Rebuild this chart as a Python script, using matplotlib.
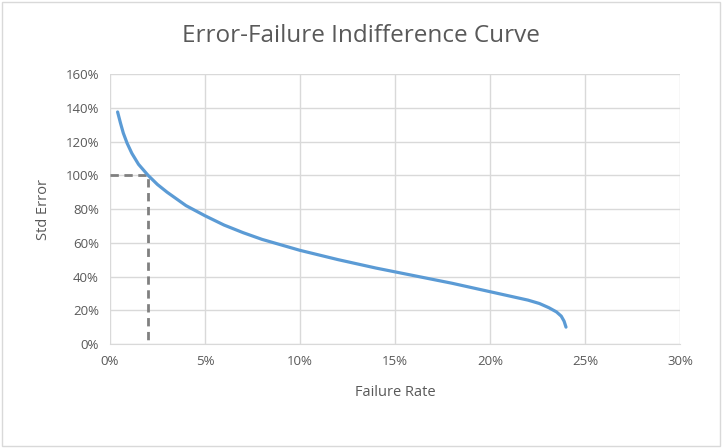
import matplotlib.pyplot as plt
from matplotlib.ticker import PercentFormatter

# failure rate (%) vs std error (%)
failure_rate = [0.4, 0.55, 0.7, 0.9, 1.15, 1.5, 2.0, 2.5, 3.0, 4.0, 5.0, 6.0, 7.0, 8.0,
                10.0, 12.0, 14.0, 16.0, 18.0, 20.0, 21.0, 22.0, 22.6, 23.1, 23.5,
                23.75, 23.9, 24.0]
std_error = [137.5, 131, 125, 119, 113, 106.5, 100, 94.5, 90, 82, 76, 70.5, 66, 62,
             55.5, 50, 45, 40.5, 36, 31, 28.5, 26, 24, 21.5, 19,
             16.5, 13.5, 10]

# the marked point
ref_x = 2.0
ref_y = 100

x_ticks = [0, 5, 10, 15, 20, 25, 30]
y_ticks = [0, 20, 40, 60, 80, 100, 120, 140, 160]

plt.rcParams['font.family'] = ['Open Sans', 'DejaVu Sans']
txt = '#595959'
grid = '#d9d9d9'

fig = plt.figure(figsize=(7.22, 4.48), dpi=100)
ax = fig.add_axes([110 / 722, 1 - 344 / 448, 570 / 722, 270 / 448])

ax.plot(failure_rate, std_error, color='#5B9BD5', lw=2.3, solid_capstyle='round',
        solid_joinstyle='round', zorder=3)
ax.plot([0, ref_x, ref_x], [ref_y, ref_y, 0], color='#808080', lw=2,
        dashes=(3, 2), zorder=2)

ax.set_xlim(0, 30)
ax.set_ylim(0, 160)
ax.set_xticks(x_ticks)
ax.set_yticks(y_ticks)
ax.xaxis.set_major_formatter(PercentFormatter(decimals=0))
ax.yaxis.set_major_formatter(PercentFormatter(decimals=0))
ax.grid(True, color=grid, lw=1)
ax.set_axisbelow(True)
for s in ['top', 'right', 'left']:
    ax.spines[s].set_visible(False)
ax.spines['bottom'].set_color(grid)
ax.tick_params(length=0, labelsize=9.5, colors=txt, pad=8)

ax.set_xlabel('Failure Rate', fontsize=10.5, color=txt, labelpad=12)
ax.set_ylabel('Std Error', fontsize=10.5, color=txt, labelpad=10)
fig.text(0.5, 1 - 36 / 448, 'Error-Failure Indifference Curve', ha='center', va='center',
         fontsize=17.5, color=txt)

# outer chart border
fig.patches.append(plt.Rectangle((2 / 722, 2 / 448), 718 / 722, 444 / 448, transform=fig.transFigure,
                                 fill=False, edgecolor=grid, lw=1))

fig.savefig('out.png', dpi=100)
